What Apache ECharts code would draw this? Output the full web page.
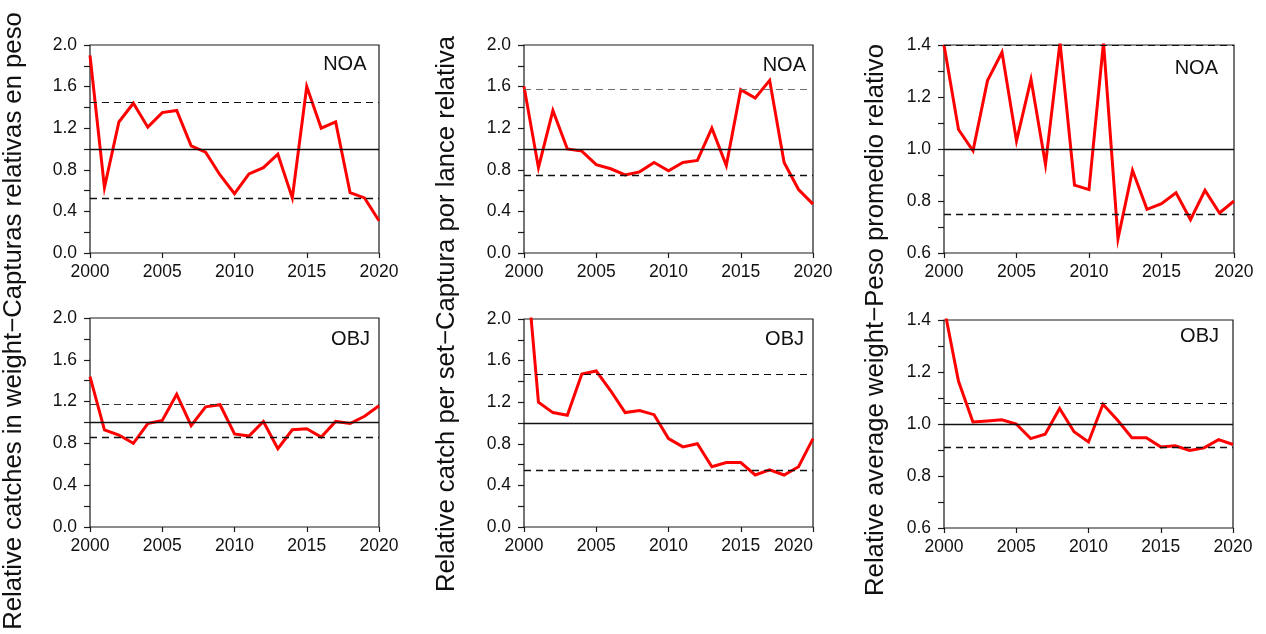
<!DOCTYPE html>
<html>
<head>
<meta charset="utf-8">
<script src="https://cdn.jsdelivr.net/npm/echarts@6/dist/echarts.min.js"></script>
<style>
  html, body { margin: 0; padding: 0; background: #fff; }
  #chart { width: 1266px; height: 634px; }
</style>
</head>
<body>
<div id="chart"></div>
<script>
// Years shared by every panel
const years = [2000, 2001, 2002, 2003, 2004, 2005, 2006, 2007, 2008, 2009, 2010,
               2011, 2012, 2013, 2014, 2015, 2016, 2017, 2018, 2019, 2020];

// Relative catches in weight
const catchNOA = [1.90, 0.63, 1.26, 1.44, 1.21, 1.35, 1.37, 1.03, 0.97, 0.75, 0.57,
                  0.76, 0.82, 0.95, 0.53, 1.60, 1.20, 1.26, 0.58, 0.53, 0.31];
const catchOBJ = [1.44, 0.93, 0.88, 0.80, 0.99, 1.02, 1.27, 0.97, 1.15, 1.17, 0.89,
                  0.87, 1.01, 0.75, 0.93, 0.94, 0.86, 1.01, 0.99, 1.06, 1.16];

// Relative catch per set
const cpsNOA = [1.60, 0.82, 1.37, 1.00, 0.98, 0.85, 0.81, 0.75, 0.78, 0.87, 0.79,
                0.87, 0.89, 1.20, 0.84, 1.57, 1.49, 1.66, 0.87, 0.61, 0.47];
const cpsOBJ = [2.79, 1.20, 1.10, 1.075, 1.47, 1.50, 1.31, 1.10, 1.12, 1.08, 0.85,
                0.77, 0.80, 0.58, 0.62, 0.62, 0.50, 0.55, 0.50, 0.58, 0.85];

// Relative average weight
const weightNOA = [1.40, 1.075, 0.993, 1.263, 1.372, 1.031, 1.268, 0.940, 1.41, 0.861, 0.844,
                   1.41, 0.655, 0.918, 0.768, 0.790, 0.832, 0.728, 0.841, 0.754, 0.800];
const weightOBJ = [1.45, 1.165, 1.008, 1.012, 1.016, 1.000, 0.944, 0.961, 1.060, 0.970, 0.931,
                   1.076, 1.015, 0.947, 0.947, 0.912, 0.916, 0.898, 0.908, 0.940, 0.921];

// Reference levels: [lower dashed, mean, upper dashed]
const catchNOARef  = [0.53, 1.0, 1.45];
const catchOBJRef  = [0.86, 1.0, 1.17];
const cpsNOARef    = [0.75, 1.0, 1.57];
const cpsOBJRef    = [0.545, 1.0, 1.47];
const weightNOARef = [0.753, 1.0, 1.40];
const weightOBJRef = [0.912, 1.0, 1.079];

// Axis settings
const xTickStep = 5;
const yRangeCatch  = [0, 2.0];
const yRangeWeight = [0.6, 1.4];
const yStepCatch  = 0.2;
const yStepWeight = 0.1;

// Axis titles
const titleCatch  = 'Relative catches in weight\u2212Capturas relativas en peso';
const titleCps    = 'Relative catch per set\u2212Captura por lance relativa';
const titleWeight = 'Relative average weight\u2212Peso promedio relativo';

const panels = [
  { data: catchNOA,  ref: catchNOARef,  tag: 'NOA', range: yRangeCatch,  step: yStepCatch },
  { data: cpsNOA,    ref: cpsNOARef,    tag: 'NOA', range: yRangeCatch,  step: yStepCatch, upperColor: '#6f6f6f' },
  { data: weightNOA, ref: weightNOARef, tag: 'NOA', range: yRangeWeight, step: yStepWeight },
  { data: catchOBJ,  ref: catchOBJRef,  tag: 'OBJ', range: yRangeCatch,  step: yStepCatch, upperColor: '#333' },
  { data: cpsOBJ,    ref: cpsOBJRef,    tag: 'OBJ', range: yRangeCatch,  step: yStepCatch, alignLast: true },
  { data: weightOBJ, ref: weightOBJRef, tag: 'OBJ', range: yRangeWeight, step: yStepWeight }
];

// Plot boxes and tag placement (right edge / vertical centre of the tag text)
const boxes = [
  { left: 90,  top: 45,  width: 289, height: 208, tagX: 366.5, tagY: 64.5 },
  { left: 524, top: 45,  width: 289, height: 208, tagX: 806,   tagY: 65 },
  { left: 944, top: 45,  width: 290, height: 208, tagX: 1218,  tagY: 68 },
  { left: 90,  top: 318, width: 289, height: 209, tagX: 370,   tagY: 339.5 },
  { left: 524, top: 319, width: 289, height: 208, tagX: 804,   tagY: 339.5 },
  { left: 944, top: 320, width: 289, height: 208, tagX: 1219,  tagY: 336 }
];

const FONT = '"Liberation Sans", Arial, sans-serif';
const INK = '#111';

const grid = [], xAxis = [], yAxis = [], series = [], graphic = [];

panels.forEach((p, i) => {
  const b = boxes[i];
  grid.push({
    left: b.left, top: b.top, width: b.width, height: b.height,
    show: true, borderColor: '#1a1a1a', borderWidth: 1.2, backgroundColor: 'transparent'
  });
  xAxis.push({
    type: 'value', gridIndex: i, min: years[0], max: years[years.length - 1],
    interval: xTickStep,
    axisLine: { show: false },
    axisTick: { show: true, length: 5, lineStyle: { color: '#1a1a1a', width: 1.2 } },
    splitLine: { show: false },
    axisLabel: {
      color: INK, fontFamily: FONT, fontSize: 17.5, margin: 10,
      alignMaxLabel: p.alignLast ? 'right' : null,
      formatter: v => String(v)
    }
  });
  const st = p.step;
  yAxis.push({
    type: 'value', gridIndex: i, min: p.range[0], max: p.range[1], interval: st,
    axisLine: { show: false },
    axisTick: { show: true, length: 6, lineStyle: { color: '#1a1a1a', width: 1.2 } },
    splitLine: { show: false },
    axisLabel: {
      color: INK, fontFamily: FONT, fontSize: 17.5, margin: 13,
      formatter: v => (Math.round(v / st) % 2 === 0 ? v.toFixed(1) : '')
    }
  });
  const upper = p.upperColor || '#111';
  series.push({
    type: 'line', xAxisIndex: i, yAxisIndex: i, data: [], z: 1, silent: true,
    markLine: {
      silent: true, symbol: ['none', 'none'], animation: false,
      label: { show: false },
      data: [
        { yAxis: p.ref[0], lineStyle: { color: '#111', width: 1.3, type: [7, 5] } },
        { yAxis: p.ref[1], lineStyle: { color: '#111', width: 1.3, type: 'solid' } },
        { yAxis: p.ref[2], lineStyle: { color: upper, width: 1.2, type: [7, 5] } }
      ]
    }
  });
  series.push({
    type: 'line', xAxisIndex: i, yAxisIndex: i, z: 3,
    data: years.map((y, k) => [y, p.data[k]]),
    showSymbol: false, clip: true, animation: false,
    lineStyle: { color: '#ff0000', width: 3, join: 'miter' }
  });
  graphic.push({
    type: 'text', x: b.tagX, y: b.tagY, z: 10,
    style: {
      text: p.tag, fill: INK, font: '20px ' + FONT,
      textAlign: 'right', textVerticalAlign: 'middle'
    }
  });
});

// Vertical axis titles, one per column
[[titleCatch, 14, 321], [titleCps, 447, 314], [titleWeight, 876, 320]].forEach(([t, x, y]) => {
  graphic.push({
    type: 'text', x: x, y: y, rotation: Math.PI / 2, z: 10,
    style: {
      text: t, fill: INK, font: '25.7px ' + FONT,
      textAlign: 'center', textVerticalAlign: 'middle'
    }
  });
});

const chart = echarts.init(document.getElementById('chart'), null, { renderer: 'canvas' });
chart.setOption({
  animation: false,
  backgroundColor: '#ffffff',
  grid, xAxis, yAxis, series, graphic
});
</script>
</body>
</html>
